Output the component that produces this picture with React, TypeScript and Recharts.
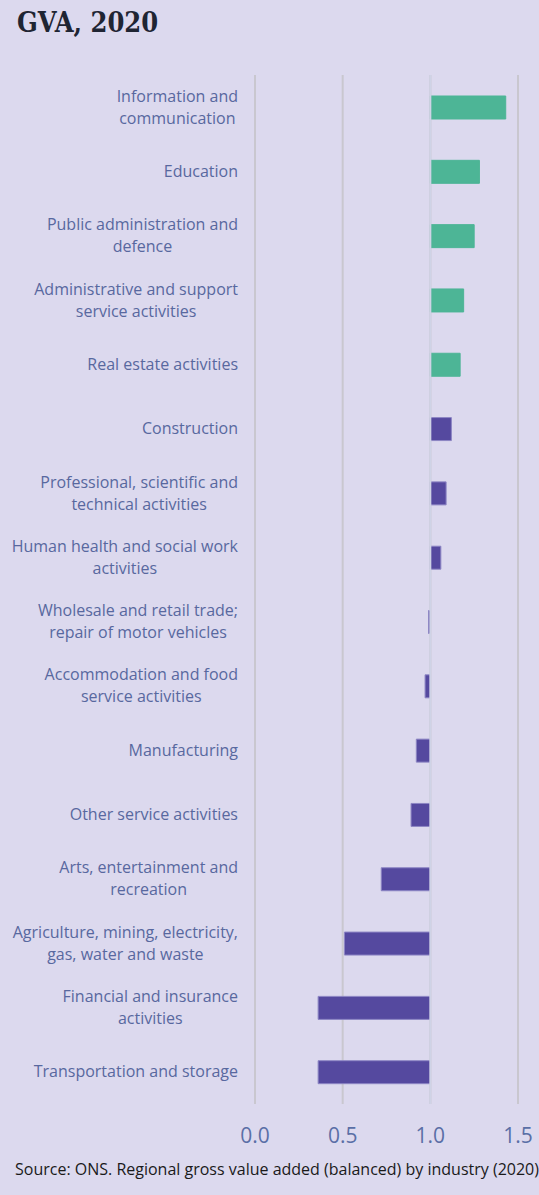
import React from "react";
import { BarChart, Bar, XAxis, YAxis, CartesianGrid, ReferenceLine, Cell } from "recharts";

const industries = [
  "Information and\ncommunication",
  "Education",
  "Public administration and\ndefence",
  "Administrative and support\nservice activities",
  "Real estate activities",
  "Construction",
  "Professional, scientific and\ntechnical activities",
  "Human health and social work\nactivities",
  "Wholesale and retail trade;\nrepair of motor vehicles",
  "Accommodation and food\nservice activities",
  "Manufacturing",
  "Other service activities",
  "Arts, entertainment and\nrecreation",
  "Agriculture, mining, electricity,\ngas, water and waste",
  "Financial and insurance\nactivities",
  "Transportation and storage",
];
const gvaRatio = [1.43, 1.28, 1.25, 1.19, 1.17, 1.12, 1.09, 1.06, 0.99, 0.97, 0.92, 0.89, 0.72, 0.51, 0.36, 0.36];
const highlighted = [true, true, true, true, true, false, false, false, false, false, false, false, false, false, false, false];
const xTicks = [0, 0.5, 1, 1.5];
const baseline = 1;

const data = industries.map((name, i) => ({
  name,
  range: [baseline, gvaRatio[i]],
  highlighted: highlighted[i],
}));

const BG = "#dcd9ee";
const GREEN = "#4db596";
const PURPLE = "#55499f";
const LABEL = "#58689f";
const font = "'Open Sans', sans-serif";
const LABEL_SIZE = 16;

let ctx: CanvasRenderingContext2D | null = null;
function measure(s: string) {
  if (!ctx) ctx = document.createElement("canvas").getContext("2d");
  if (!ctx) return s.length * LABEL_SIZE * 0.5;
  ctx.font = `${LABEL_SIZE}px 'Open Sans'`;
  return ctx.measureText(s).width;
}

function IndustryTick(props: any) {
  const { x, y, payload } = props;
  const lines = String(payload.value).split("\n");
  const lh = 22;
  const start = -((lines.length - 1) / 2) * lh + 5.5;
  const right = x - 17;
  const blockW = Math.max(...lines.map(measure));
  const cx = right - blockW / 2;
  return (
    <text x={cx} y={y} textAnchor="middle" fill={LABEL} fontSize={LABEL_SIZE} fontFamily={font}>
      {lines.map((l, i) => (
        <tspan key={i} x={cx} dy={i === 0 ? start : lh}>
          {l}
        </tspan>
      ))}
    </text>
  );
}

function ValueTick(props: any) {
  const { x, y, payload } = props;
  return (
    <text x={x} y={y + 39} textAnchor="middle" fill="#5a6fa6" fontSize={21} fontFamily={font}>
      {Number(payload.value).toFixed(1)}
    </text>
  );
}

export default function App() {
  return (
    <div style={{ position: "absolute", left: 0, top: 0, width: 539, height: 1195, background: BG, overflow: "hidden" }}>
      <div
        style={{
          position: "absolute",
          left: 17,
          top: 7,
          fontFamily: "'DejaVu Serif', serif",
          fontWeight: 700,
          fontSize: 27,
          color: "#1f2533",
          whiteSpace: "nowrap",
          transform: "scaleX(0.9)",
          transformOrigin: "left top",
        }}
      >
        GVA, 2020
      </div>
      <BarChart
        width={539}
        height={1195}
        data={data}
        layout="vertical"
        margin={{ top: 75, right: 21, bottom: 51, left: 0 }}
        barSize={23}
      >
        <CartesianGrid horizontal={false} stroke="#c9c7cf" strokeWidth={2} verticalValues={xTicks} />
        <ReferenceLine x={1} stroke="#cfd3e6" strokeWidth={2} />
        <XAxis
          type="number"
          domain={[0, 1.5]}
          ticks={xTicks}
          axisLine={false}
          tickLine={false}
          tickSize={0}
          tickMargin={0}
          height={40}
          tick={<ValueTick />}
        />
        <YAxis
          type="category"
          dataKey="name"
          width={255}
          axisLine={false}
          tickLine={false}
          tickSize={0}
          tickMargin={0}
          interval={0}
          tick={<IndustryTick />}
        />
        <Bar dataKey="range" isAnimationActive={false}>
          {data.map((d, i) => (
            <Cell
              key={i}
              fill={d.highlighted ? GREEN : PURPLE}
              stroke={d.highlighted ? GREEN : "#8d86c4"}
              strokeWidth={1}
            />
          ))}
        </Bar>
      </BarChart>
      <div
        style={{
          position: "absolute",
          left: 15,
          top: 1158,
          fontFamily: font,
          fontSize: 16,
          color: "#1a1a1a",
          whiteSpace: "nowrap",
        }}
      >
        Source: ONS. Regional gross value added (balanced) by industry (2020)
      </div>
    </div>
  );
}
